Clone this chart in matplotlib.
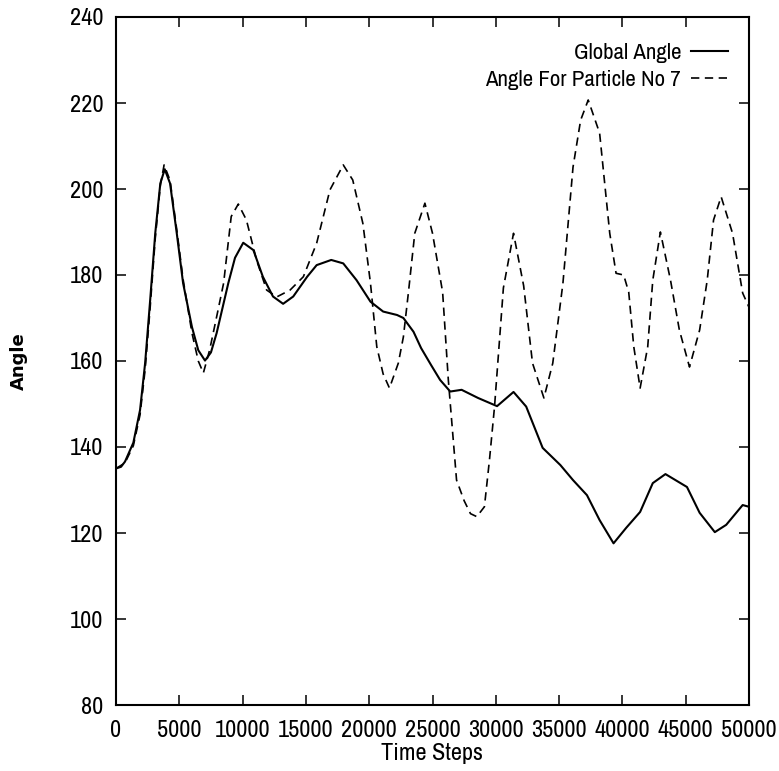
import matplotlib
matplotlib.use("Agg")
import matplotlib.pyplot as plt
from matplotlib import font_manager

# global angle (solid)
tGlobal = [0, 400, 710, 1370, 1900, 2300, 2700, 3100, 3500, 3850, 4270, 4800, 5300, 6000,
           6500, 7030, 7500, 7950, 8870, 9400, 10050, 10850, 11600, 12400, 13200, 14000,
           15100, 15850, 17000, 17950, 19000, 20100, 21100, 22200, 22700, 23500, 24100,
           24900, 25600, 26400, 27300, 28600, 30100, 31400, 32400, 33700, 35100, 36100,
           37200, 38200, 39300, 40300, 41400, 42400, 43400, 45100, 46100, 47300, 48200,
           49500, 50000]
aGlobal = [135, 135.4, 136.6, 141, 148.6, 159.5, 174.2, 189.7, 201.3, 204.6, 201.3, 189.7,
           178.1, 167.9, 162.5, 160.1, 162, 166.5, 178.1, 184, 187.5, 185.8, 179.6, 175,
           173.3, 175, 179.6, 182.3, 183.5, 182.7, 178.8, 173.8, 171.5, 170.7, 170, 166.8,
           163, 159, 155.6, 152.9, 153.3, 151.4, 149.5, 152.8, 149.4, 139.8, 135.8, 132.3,
           128.8, 123, 117.6, 121.2, 124.9, 131.6, 133.7, 130.7, 124.7, 120.2, 121.9,
           126.5, 126.1]

# angle for particle no 7 (dashed)
tPart = [0, 710, 1370, 1900, 2300, 2700, 3100, 3500, 3800, 4270, 4800, 5300, 6000, 6500,
         6900, 7400, 8000, 8500, 9100, 9660, 10300, 11100, 11900, 12700, 13750, 14800,
         15850, 16900, 17950, 18700, 19500, 20100, 20600, 21100, 21600, 22300, 22700,
         23100, 23600, 24400, 25000, 25800, 26250, 26900, 27500, 28000, 28500, 29100,
         29500, 29900, 30600, 31400, 32200, 32900, 33800, 34500, 35300, 36100, 36700,
         37300, 38200, 39000, 39500, 40100, 40500, 40900, 41400, 42000, 42400, 43000,
         43800, 44500, 45300, 46100, 46700, 47200, 47800, 48700, 49500, 50000]
aPart = [135, 136.3, 140.3, 147.5, 158, 172.5, 188.5, 200.8, 205.6, 202, 190.5, 179,
         166.5, 160, 157.2, 162.6, 171, 178.1, 193.6, 196.5, 192.8, 183.5, 176.5, 174.9,
         176.5, 179.6, 187.4, 199.8, 205.6, 202.1, 192, 178.1, 163.3, 157, 153.7, 159.5,
         165.6, 176, 189.7, 196.7, 189.7, 176, 155.6, 132.3, 127.5, 124.5, 123.8, 126.1,
         137, 149.4, 177, 189.7, 177.5, 159.5, 151.4, 159.5, 178, 205.1, 216, 220.7, 213,
         189.7, 180.4, 180, 176, 163.3, 153.7, 163.3, 178.8, 190, 178.8, 167.2, 158.6,
         167.2, 178.8, 192.8, 198.2, 189.7, 175.8, 172.5]

xTicks = list(range(0, 50001, 5000))
yTicks = list(range(80, 241, 20))

# narrow grotesque like the original's Helvetica Narrow
have = set(f.name for f in font_manager.fontManager.ttflist)
narrow = [f for f in ['Liberation Sans Narrow', 'Arial Narrow', 'Archivo Narrow',
                      'Roboto Condensed', 'PT Sans Narrow'] if f in have]
plt.rcParams['font.family'] = narrow[:1] + ['Liberation Sans', 'DejaVu Sans']
plt.rcParams['font.size'] = 17.5

fig = plt.figure(figsize=(7.79, 7.71), dpi=100)
ax = fig.add_axes([116/779, 66/771, 633/779, 688/771])

ax.plot(tGlobal, aGlobal, color='black', lw=1.5, label='Global Angle')
ax.plot(tPart, aPart, color='black', lw=1.2, linestyle=(0, (5, 3.3)),
        label='Angle For Particle No 7')

ax.set_xlim(0, 50000)
ax.set_ylim(80, 240)
ax.set_xticks(xTicks)
ax.set_yticks(yTicks)
ax.tick_params(direction='in', length=7, width=1.1, top=True, right=True, pad=9)
ax.tick_params(axis='x', pad=11)
for s in ax.spines.values():
    s.set_linewidth(1.5)

ax.set_xlabel('Time Steps', labelpad=1)
ax.set_ylabel('Angle', family='DejaVu Sans', fontweight='bold', fontsize=13)
ax.yaxis.set_label_coords(-0.139, 0.5)

ax.legend(loc='upper right', bbox_to_anchor=(0.967, 0.962), frameon=False,
          markerfirst=False, handlelength=1.6, handletextpad=0.45,
          labelspacing=0.3, borderpad=0, borderaxespad=0, fontsize=16.5)

fig.savefig('out.png', dpi=100)
